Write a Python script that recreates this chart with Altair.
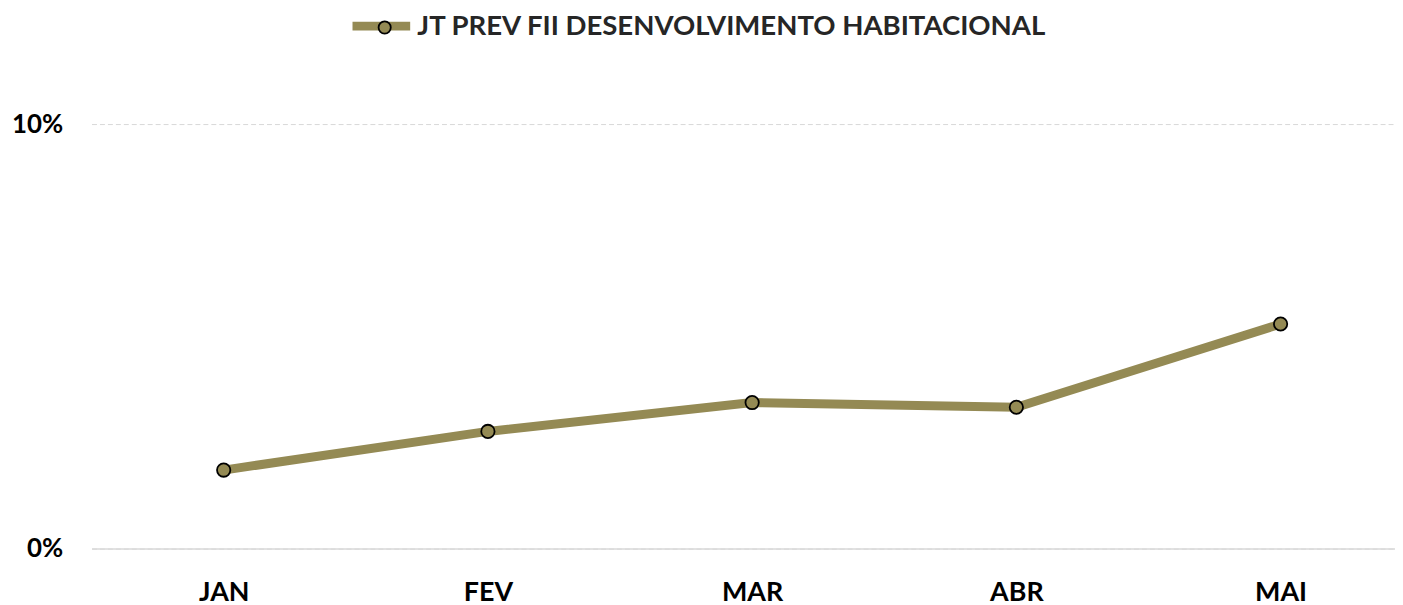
import altair as alt
import pandas as pd

months = ["JAN", "FEV", "MAR", "ABR", "MAI"]
values = [0.0185, 0.0276, 0.0344, 0.0333, 0.0529]
series_name = "JT PREV FII DESENVOLVIMENTO HABITACIONAL"

df = pd.DataFrame({
    "mes": months,
    "valor": values,
    "serie": [series_name] * len(months),
    "serie_pt": [series_name] * len(months),
})

OLIVE = "#948A54"
FONT = "Lato"

x_enc = alt.X(
    "mes:N",
    sort=months,
    scale=alt.Scale(type="point", padding=0.4666, align=0.536),
    axis=alt.Axis(
        title=None, ticks=False, labelAngle=0, labelFont=FONT, labelFontSize=27,
        labelFontWeight="bold", labelColor="#000000", labelPadding=31,
        domain=True, domainColor="#d9d9d9", domainWidth=1.5, grid=False,
    ),
)
y_enc = alt.Y(
    "valor:Q",
    scale=alt.Scale(domain=[0, 0.1], nice=False, zero=True),
    axis=alt.Axis(
        title=None, values=[0, 0.1], format=".0%", ticks=False, domain=False,
        labelFont=FONT, labelFontSize=26, labelFontWeight="bold", labelColor="#000000",
        labelPadding=29, grid=True, gridColor="#d9d9d9", gridDash=[5, 3], gridWidth=1,
    ),
)

line = alt.Chart(df).mark_line(strokeWidth=9).encode(
    x=x_enc,
    y=y_enc,
    stroke=alt.Stroke(
        "serie:N",
        scale=alt.Scale(range=[OLIVE]),
        legend=alt.Legend(
            title=None, orient="none", legendX=258, legendY=-132,
            symbolType="stroke", symbolSize=3364, symbolStrokeWidth=9,
            labelExpr="''", labelFontSize=1,
        ),
    ),
)

points = alt.Chart(df).mark_point(
    filled=True, size=180, stroke="#000000", strokeWidth=1.8, opacity=1
).encode(
    x=x_enc,
    y=y_enc,
    fill=alt.Fill(
        "serie_pt:N",
        scale=alt.Scale(range=[OLIVE]),
        legend=alt.Legend(
            title=None, orient="none", legendX=281, legendY=-111,
            symbolType="circle", symbolSize=150, symbolFillColor=OLIVE,
            symbolStrokeColor="#000000", symbolStrokeWidth=1.8, symbolOpacity=1,
            labelFont=FONT, labelFontSize=27.7, labelFontWeight="bold",
            labelColor="#262626", labelOffset=19, labelLimit=1000,
        ),
    ),
)

chart = alt.layer(line, points).properties(
    width=1311,
    height=427,
    background="white",
    autosize=alt.AutoSizeParams(type="none"),
    padding={"left": 84, "top": 115, "right": 0, "bottom": 55},
).configure_view(strokeWidth=0, strokeOpacity=0)

chart.save("out.html", embed_options={"renderer": "svg", "actions": False})
